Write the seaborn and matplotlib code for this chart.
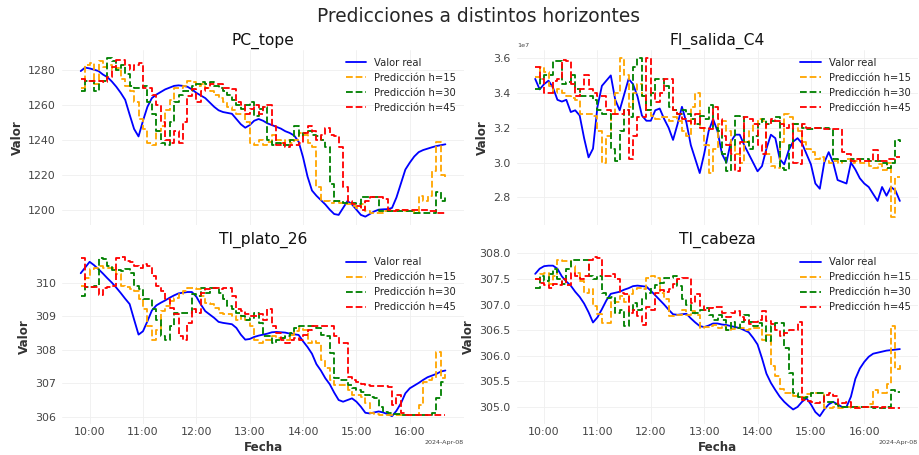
import numpy as np
import pandas as pd
import matplotlib
matplotlib.use("Agg")
import matplotlib.pyplot as plt
import matplotlib.dates as mdates
import seaborn as sns

# ---------------- data (5-minute grid, 2024-04-08 09:50 -> 16:40) ----------------
START = "2024-04-08 09:50"
N_POINTS = 83
HORIZONS = [15, 30, 45]
TITLES = ["PC_tope", "FI_salida_C4", "TI_plato_26", "TI_cabeza"]

pc_real = [1279.5, 1281.5, 1281, 1280.3, 1279.5, 1277.5, 1276, 1273.5, 1270.5, 1267,
           1263, 1254.5, 1246.3, 1242, 1251, 1259, 1264, 1266, 1267.5, 1269,
           1270, 1271, 1271.3, 1271, 1270.5, 1269, 1267, 1265.5, 1264, 1261.5,
           1259, 1257, 1256, 1255.5, 1255, 1252, 1249, 1247, 1248.5, 1251,
           1252, 1251, 1249.5, 1248.5, 1247.5, 1246.5, 1245, 1244, 1242.5, 1239,
           1230, 1219, 1211, 1208, 1205.5, 1203, 1200, 1197.5, 1197, 1201,
           1205, 1203, 1200, 1197, 1196, 1197.5, 1199, 1200, 1200.2, 1200.3,
           1201, 1207, 1215, 1223, 1227, 1230.5, 1233, 1234.2, 1235, 1235.8,
           1236.5, 1237, 1237.5]
pc_h15 = [1270, 1283, 1284, 1272, 1285, 1282, 1283, 1280, 1281, 1275,
          1271, 1268, 1262, 1252, 1246, 1238, 1237, 1245, 1248, 1257,
          1263, 1270, 1270, 1271, 1274, 1273, 1271, 1272, 1270, 1268,
          1266, 1264, 1262, 1259, 1257, 1255, 1255, 1250, 1238, 1237,
          1240, 1237, 1239, 1243, 1240, 1238, 1240, 1238, 1240, 1244,
          1243, 1238, 1236, 1213, 1205, 1205, 1204, 1205, 1204, 1203,
          1203, 1202, 1201, 1203, 1199, 1198, 1198, 1198, 1199, 1199,
          1199, 1200, 1200, 1199, 1199, 1198, 1208, 1205, 1208, 1222,
          1239, 1220, 1219]
pc_h30 = [1268, 1274, 1274, 1268, 1274, 1274, 1287, 1285, 1280, 1283,
          1278, 1271, 1270, 1270, 1271, 1262, 1255, 1245, 1238, 1237,
          1250, 1262, 1266, 1268, 1268, 1271, 1272, 1273, 1272, 1273,
          1271, 1270, 1268, 1266, 1263, 1260, 1258, 1260, 1262, 1254,
          1258, 1259, 1240, 1237, 1238, 1237, 1237, 1240, 1248, 1242,
          1244, 1245, 1243, 1242, 1240, 1236, 1215, 1205, 1205, 1204,
          1204, 1204, 1203, 1207, 1207, 1207, 1207, 1199, 1199, 1199,
          1199, 1199, 1199, 1199, 1199, 1198, 1198, 1198, 1198, 1198,
          1210, 1205, 1207]
pc_h45 = [1275, 1274, 1274, 1274, 1274, 1273, 1276, 1282, 1286, 1286,
          1283, 1280, 1283, 1284, 1270, 1270, 1266, 1260, 1250, 1240,
          1238, 1245, 1238, 1250, 1265, 1269, 1262, 1268, 1270, 1272,
          1272, 1272, 1270, 1270, 1269, 1262, 1260, 1255, 1258, 1260,
          1255, 1259, 1260, 1248, 1237, 1238, 1236, 1237, 1237, 1238,
          1244, 1248, 1245, 1240, 1243, 1247, 1243, 1242, 1236, 1213,
          1205, 1203, 1202, 1200, 1205, 1207, 1207, 1207, 1206, 1200,
          1199, 1200, 1200, 1200, 1200, 1200, 1200, 1200, 1199, 1199,
          1198, 1198, 1198]

# FI_salida_C4 in units of 1e7
fi_real = [3.48, 3.42, 3.45, 3.47, 3.43, 3.36, 3.35, 3.36, 3.29, 3.30,
           3.27, 3.14, 3.03, 3.08, 3.32, 3.44, 3.47, 3.50, 3.36, 3.30,
           3.39, 3.48, 3.45, 3.38, 3.27, 3.24, 3.24, 3.30, 3.31, 3.25,
           3.20, 3.13, 3.22, 3.32, 3.23, 3.10, 3.02, 2.94, 3.05, 3.18,
           3.25, 3.18, 3.05, 3.00, 3.12, 3.16, 3.16, 3.10, 3.05, 3.00,
           2.95, 2.98, 3.08, 3.16, 3.14, 3.02, 2.99, 3.07, 3.12, 3.14,
           3.11, 3.05, 2.99, 2.88, 2.85, 3.00, 3.06, 3.00, 2.90, 2.89,
           2.88, 3.00, 2.96, 2.91, 2.88, 2.86, 2.82, 2.78, 2.86, 2.81,
           2.86, 2.84, 2.78]
fi_h15 = [3.49, 3.55, 3.52, 3.44, 3.40, 3.42, 3.40, 3.38, 3.37, 3.36,
          3.28, 3.28, 3.28, 3.27, 3.18, 3.00, 3.15, 3.28, 3.40, 3.60,
          3.50, 3.32, 3.40, 3.45, 3.38, 3.30, 3.27, 3.25, 3.26, 3.26,
          3.24, 3.26, 3.24, 3.18, 3.15, 3.32, 3.40, 3.20, 3.10, 2.94,
          3.08, 3.22, 3.24, 3.18, 3.10, 3.05, 3.00, 3.12, 3.18, 3.22,
          3.25, 3.24, 3.05, 2.98, 2.97, 3.12, 3.28, 3.26, 3.22, 3.18,
          3.12, 3.08, 3.06, 3.02, 3.03, 3.01, 3.00, 3.01, 3.00, 3.01,
          3.02, 3.00, 3.01, 3.00, 3.00, 2.98, 2.97, 2.99, 2.96, 3.00,
          2.69, 2.92, 2.92]
fi_h30 = [3.42, 3.48, 3.50, 3.50, 3.58, 3.58, 3.45, 3.46, 3.50, 3.42,
          3.38, 3.38, 3.38, 3.36, 3.30, 3.28, 3.28, 3.08, 3.01, 3.18,
          3.30, 3.26, 3.55, 3.60, 3.38, 3.30, 3.40, 3.48, 3.48, 3.44,
          3.32, 3.30, 3.28, 3.30, 3.28, 3.25, 3.22, 3.27, 3.25, 3.33,
          3.20, 3.18, 3.05, 2.95, 3.10, 3.27, 3.26, 3.12, 3.08, 3.15,
          3.22, 3.25, 3.22, 3.24, 3.26, 2.97, 2.96, 3.10, 3.22, 3.22,
          3.20, 3.19, 3.19, 3.20, 3.20, 3.20, 3.19, 3.02, 3.01, 3.01,
          3.01, 3.02, 3.02, 3.02, 3.02, 3.01, 3.01, 3.01, 3.00, 2.97,
          3.00, 3.13, 3.12]
fi_h45 = [3.55, 3.48, 3.40, 3.40, 3.47, 3.48, 3.59, 3.58, 3.45, 3.38,
          3.42, 3.50, 3.42, 3.40, 3.38, 3.38, 3.30, 3.28, 3.28, 3.28,
          3.30, 3.02, 3.15, 3.26, 3.26, 3.60, 3.40, 3.35, 3.40, 3.48,
          3.48, 3.30, 3.28, 3.25, 3.24, 3.22, 3.28, 3.20, 3.20, 3.19,
          3.32, 3.25, 3.15, 3.10, 3.05, 2.95, 3.12, 3.26, 3.25, 3.22,
          3.10, 3.05, 3.22, 3.25, 3.24, 3.22, 3.20, 3.22, 3.00, 2.99,
          3.22, 3.20, 3.20, 3.20, 3.20, 3.19, 3.19, 3.19, 3.19, 3.06,
          3.05, 3.01, 3.02, 3.01, 3.01, 3.01, 3.07, 3.01, 3.01, 3.02,
          3.02, 3.03, 3.03]

tp_real = [310.28, 310.45, 310.62, 310.52, 310.40, 310.27, 310.13, 310.00, 309.85, 309.69,
           309.52, 309.36, 308.90, 308.45, 308.55, 308.85, 309.17, 309.32, 309.40, 309.47,
           309.55, 309.62, 309.68, 309.70, 309.72, 309.72, 309.58, 309.35, 309.15, 309.05,
           308.95, 308.83, 308.80, 308.78, 308.76, 308.65, 308.45, 308.30, 308.32, 308.38,
           308.42, 308.45, 308.48, 308.52, 308.53, 308.52, 308.51, 308.48, 308.46, 308.44,
           308.25, 308.08, 307.88, 307.57, 307.38, 307.15, 306.97, 306.72, 306.50, 306.45,
           306.50, 306.55, 306.45, 306.30, 306.12, 306.10, 306.13, 306.16, 306.13, 306.08,
           306.02, 306.18, 306.40, 306.70, 306.85, 306.93, 307.01, 307.10, 307.18, 307.23,
           307.28, 307.35, 307.38]
tp_h15 = [309.90, 310.15, 310.40, 310.45, 310.50, 310.45, 310.45, 310.45, 310.25, 309.90,
          309.88, 309.80, 309.75, 309.50, 309.20, 308.70, 308.30, 308.60, 309.15, 309.30,
          309.45, 309.55, 309.65, 309.75, 309.85, 309.85, 309.80, 309.60, 309.40, 309.35,
          309.25, 309.10, 309.05, 309.05, 309.00, 308.90, 309.00, 308.90, 308.70, 308.30,
          308.20, 308.30, 308.30, 308.40, 308.35, 308.35, 308.30, 308.45, 308.55, 308.65,
          308.60, 308.20, 308.25, 308.20, 307.70, 307.45, 307.10, 306.95, 306.95, 306.95,
          306.80, 306.65, 306.65, 306.60, 306.40, 306.10, 306.08, 306.06, 306.05, 306.06,
          306.05, 306.06, 306.05, 306.04, 306.04, 306.05, 306.35, 307.05, 307.10, 307.15,
          307.93, 307.15, 307.28]
tp_h30 = [309.60, 309.87, 309.87, 309.90, 310.72, 310.70, 310.50, 310.38, 310.37, 310.35,
          310.40, 310.30, 309.90, 309.80, 309.50, 309.50, 309.20, 308.90, 308.40, 308.30,
          308.70, 309.10, 309.10, 309.10, 309.10, 309.65, 309.60, 309.85, 309.70, 309.85,
          309.85, 309.70, 309.50, 309.30, 309.20, 309.10, 309.00, 308.90, 308.95, 309.10,
          308.80, 308.40, 308.40, 308.20, 308.30, 308.35, 308.40, 308.50, 308.65, 308.70,
          308.70, 308.70, 308.70, 308.65, 308.45, 308.40, 307.90, 307.15, 307.10, 307.10,
          306.95, 306.85, 306.80, 306.75, 306.65, 306.60, 306.55, 306.30, 306.15, 306.10,
          306.08, 306.07, 306.06, 306.05, 306.05, 306.05, 306.05, 306.05, 306.06, 306.10,
          306.55, 307.05, 307.00]
tp_h45 = [310.74, 309.87, 309.87, 309.87, 309.62, 309.85, 309.87, 309.90, 310.72, 310.75,
          310.65, 310.60, 310.50, 310.45, 310.55, 310.50, 310.20, 309.90, 309.75, 309.50,
          309.25, 309.05, 308.40, 308.30, 308.80, 309.20, 309.10, 309.70, 309.80, 309.85,
          309.85, 309.80, 309.85, 309.85, 309.60, 309.20, 309.15, 309.05, 309.00, 309.00,
          309.05, 308.90, 309.20, 308.70, 308.50, 308.30, 308.20, 308.30, 308.35, 308.30,
          308.45, 308.60, 308.70, 308.70, 308.70, 308.70, 308.70, 308.40, 308.20, 308.20,
          307.20, 307.10, 307.05, 306.98, 306.95, 306.93, 306.93, 306.93, 306.92, 306.90,
          306.35, 306.65, 306.10, 306.06, 306.05, 306.05, 306.05, 306.05, 306.05, 306.05,
          306.05, 306.06, 306.06]

tc_real = [307.60, 307.70, 307.75, 307.76, 307.76, 307.70, 307.55, 307.45, 307.37, 307.25,
           307.15, 307.02, 306.85, 306.65, 306.75, 306.91, 307.08, 307.21, 307.23, 307.25,
           307.29, 307.32, 307.36, 307.37, 307.36, 307.35, 307.27, 307.18, 307.09, 307.00,
           306.90, 306.81, 306.80, 306.81, 306.82, 306.73, 306.65, 306.58, 306.56, 306.59,
           306.63, 306.63, 306.61, 306.60, 306.58, 306.56, 306.54, 306.50, 306.46, 306.35,
           306.22, 305.95, 305.65, 305.47, 305.33, 305.20, 305.10, 305.02, 304.95, 305.00,
           305.10, 305.17, 305.05, 304.90, 304.82, 304.95, 305.05, 305.10, 305.05, 305.00,
           305.00, 305.20, 305.55, 305.75, 305.88, 305.98, 306.04, 306.06, 306.08, 306.10,
           306.11, 306.12, 306.13]
tc_h15 = [307.50, 307.60, 307.62, 307.40, 307.55, 307.88, 307.86, 307.85, 307.75, 307.62,
          307.46, 307.23, 307.30, 306.97, 306.82, 306.64, 306.64, 307.07, 307.05, 307.16,
          307.05, 307.20, 307.30, 307.33, 307.30, 307.52, 307.56, 307.52, 307.23, 307.10,
          306.77, 306.78, 306.80, 306.90, 306.80, 306.87, 306.80, 306.55, 306.56, 306.58,
          306.60, 306.55, 306.58, 306.50, 306.52, 306.55, 306.55, 306.50, 306.52, 306.55,
          306.55, 306.31, 306.40, 305.79, 305.60, 305.35, 305.27, 305.27, 305.22, 305.20,
          305.20, 305.25, 305.27, 305.27, 305.27, 304.97, 304.98, 305.00, 304.98, 304.98,
          305.00, 304.98, 305.00, 304.99, 305.00, 305.05, 305.33, 305.27, 305.27, 305.45,
          306.58, 305.75, 305.85]
tc_h30 = [307.33, 307.55, 307.46, 307.60, 307.69, 307.50, 307.40, 307.70, 307.88, 307.88,
          307.88, 307.88, 307.56, 307.50, 307.55, 307.23, 307.13, 307.15, 306.84, 306.90,
          306.58, 306.90, 307.03, 306.90, 307.10, 307.23, 307.33, 307.38, 307.42, 307.52,
          307.52, 307.56, 307.36, 307.10, 307.00, 306.84, 306.84, 306.90, 306.93, 306.80,
          306.70, 306.80, 306.70, 306.51, 306.65, 306.55, 306.65, 306.80, 306.65, 306.58,
          306.64, 306.58, 306.28, 306.58, 306.64, 306.64, 306.15, 305.66, 305.27, 305.20,
          305.17, 305.20, 305.27, 305.27, 305.28, 305.10, 305.10, 305.05, 305.02, 305.00,
          305.00, 305.00, 305.00, 304.99, 304.99, 304.99, 304.98, 304.98, 304.98, 305.00,
          305.33, 305.30, 305.30]
tc_h45 = [307.50, 307.42, 307.38, 307.33, 307.40, 307.39, 307.50, 307.38, 307.62, 307.55,
          307.49, 307.55, 307.88, 307.92, 307.90, 307.56, 307.55, 307.59, 307.50, 307.23,
          307.20, 306.84, 306.90, 306.77, 306.60, 306.95, 306.90, 307.23, 307.28, 307.25,
          307.30, 307.40, 307.49, 307.52, 307.52, 307.03, 307.20, 306.97, 306.90, 306.93,
          306.96, 306.96, 306.84, 306.75, 306.84, 306.88, 306.75, 306.70, 306.62, 306.65,
          306.70, 306.87, 306.68, 306.62, 306.50, 306.38, 306.45, 306.51, 306.50, 306.65,
          305.14, 305.12, 305.10, 305.08, 305.10, 305.24, 305.27, 305.22, 305.05, 305.08,
          305.10, 305.00, 304.98, 305.00, 304.99, 305.00, 304.99, 304.98, 304.99, 304.98,
          304.98, 304.97, 304.97]

# ---------------- plotting ----------------
sns.set_theme(style="whitegrid")
plt.rcParams["font.family"] = ["DejaVu Sans"]

times = pd.date_range(START, periods=N_POINTS, freq="5min")

panels = [
    ("PC_tope", 1.0, pc_real, [pc_h15, pc_h30, pc_h45]),
    ("FI_salida_C4", 1e7, fi_real, [fi_h15, fi_h30, fi_h45]),
    ("TI_plato_26", 1.0, tp_real, [tp_h15, tp_h30, tp_h45]),
    ("TI_cabeza", 1.0, tc_real, [tc_h15, tc_h30, tc_h45]),
]
pred_colors = ["orange", "green", "red"]

DPI = 919 / 14
fig, axes = plt.subplots(2, 2, figsize=(14, 455 / DPI), dpi=DPI, sharex=True)
fig.subplots_adjust(left=0.068, right=0.999, top=0.890, bottom=0.068,
                    wspace=0.133, hspace=0.143)

for k, (ax, (name, scale, real, preds)) in enumerate(zip(axes.flat, panels)):
    sns.lineplot(x=times, y=np.array(real) * scale, ax=ax, color="blue",
                 linewidth=2.0, label="Valor real")
    for h, vals, col in zip(HORIZONS, preds, pred_colors):
        sns.lineplot(x=times, y=np.array(vals) * scale, ax=ax, color=col,
                     linewidth=2.0, linestyle="--", drawstyle="steps-post",
                     label=f"Predicción h={h}")
    ax.set_title(name, fontsize=17, color="#111111")
    ax.set_ylabel("Valor", fontsize=13, fontweight="bold", color="#333333")
    if k >= 2:
        ax.set_xlabel("Fecha", fontsize=13, fontweight="bold", color="#333333",
                      labelpad=4)
    else:
        ax.set_xlabel("")
    for s in ax.spines.values():
        s.set_visible(False)
    ax.grid(True, color="#efefef", linewidth=0.9)
    ax.tick_params(axis="y", length=4, width=0.8, color="#777777",
                   labelsize=12, labelcolor="#444444")
    ax.tick_params(axis="x", length=0, labelsize=12, labelcolor="#444444")
    loc = mdates.HourLocator(byhour=range(10, 17))
    ax.xaxis.set_major_locator(loc)
    ax.xaxis.set_major_formatter(mdates.ConciseDateFormatter(loc))
    ax.xaxis.get_offset_text().set_fontsize(7)
    ax.yaxis.get_offset_text().set_fontsize(7)
    ax.legend(loc="upper right", fontsize=11, frameon=False, handlelength=2.0,
              borderaxespad=0.35)

for ax in axes[0]:
    ax.tick_params(axis="x", labelbottom=False)

fig.suptitle("Predicciones a distintos horizontes", fontsize=20.5, x=0.521,
             y=0.963, va="center")
fig.savefig("out.png", dpi=DPI)
